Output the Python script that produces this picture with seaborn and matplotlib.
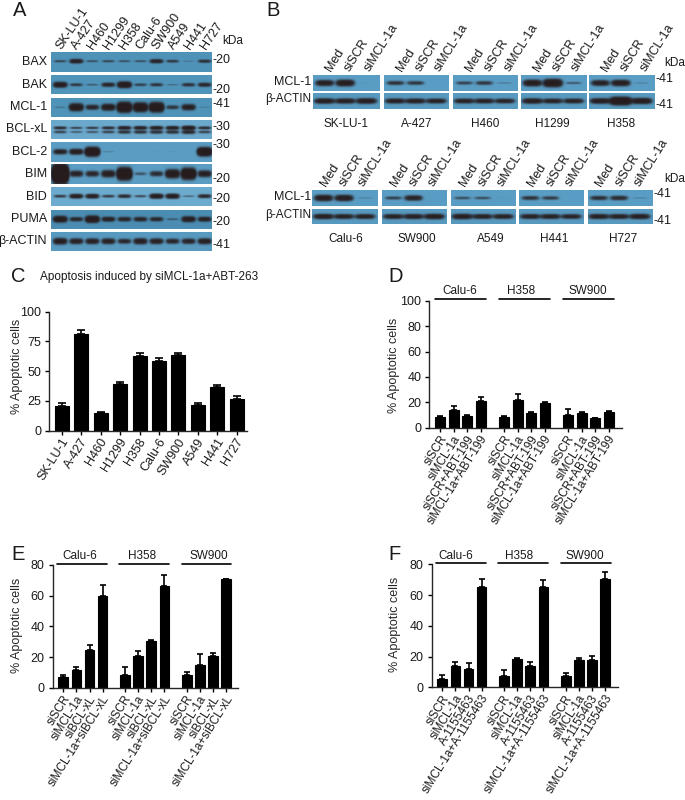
import numpy as np
import pandas as pd
import seaborn as sns
import matplotlib.pyplot as plt
from matplotlib.colors import LinearSegmentedColormap
from matplotlib.lines import Line2D
from matplotlib.transforms import ScaledTranslation

W, H = 685, 800

cell_lines = ['SK-LU-1', 'A-427', 'H460', 'H1299', 'H358', 'Calu-6', 'SW900', 'A549', 'H441', 'H727']

# panel A, band strength per lane (read by eye from the blots)
a_proteins = ['BAX', 'BAK', 'MCL-1', 'BCL-xL', 'BCL-2', 'BIM', 'BID', 'PUMA', 'β-ACTIN']
a_kda = ['-20', '-20', '-41', '-30', '-30', '-20', '-20', '-20', '-41']
bax = [.5, 1.6, .4, .5, .4, .4, 1.4, .7, .15, .9]
bak = [2.2, .7, .3, 1.3, 2.8, .6, .8, .2, .9, 1.2]
mcl1 = [.15, 2.8, 1.3, 2.2, 5, 4, 4.5, .8, 1.8, .1]
bclxl = [1, .6, .7, 1, 1.5, 1.5, 1.6, 1.6, 2, 1]
bcl2 = [1.6, 2, 5, .12, 0, 0, .02, .03, 0, 4.5]
bim = [14, 1.5, 1.3, 2, 6, .4, 1.1, 3, 5, 1.8]
bid = [.7, 1.7, 1.7, .7, 1.1, .5, 2, 2, .3, 1.2]
puma = [2.5, 1.2, 3, 1.5, 1.3, 1.3, 1.2, .3, 2, 1.5]
actin_a = [2, 1.6, 1.6, 1.6, 1.2, 1.8, 1.6, 1.3, 1.4, 1.7]

# panel B, band strength for Med / siSCR / siMCL-1a
b_lanes = ['Med', 'siSCR', 'siMCL-1a']
b_top = ['SK-LU-1', 'A-427', 'H460', 'H1299', 'H358']
b_bottom = ['Calu-6', 'SW900', 'A549', 'H441', 'H727']
mcl_top = [[1.8, 2.2, .04], [.9, .8, 0], [.6, .8, .15], [2.2, 3.2, .35], [1.7, 2, .12]]
actin_top = [[1.8, 1.7, 1.9], [1.6, 1.6, 1.5], [1.5, 1.5, 1.4], [1.8, 1.5, 1.5], [1.9, 4, 2.2]]
mcl_bottom = [[2, 2, .12], [.6, 1.5, 0], [.45, .45, .04], [.9, .7, .02], [1, 1.1, .12]]
actin_bottom = [[1.7, 1.5, 1.5], [1.5, 1.6, 1.8], [1.8, 1.5, 1.5], [1.5, 1.5, 1.4], [1.6, 1.5, 1.7]]

# panel C
c_values = [21, 81.5, 15, 39, 63, 58.5, 63.5, 22, 37, 26.5]
c_errors = [2, 3, .7, 2, 2.5, 2.5, 2, 1, 1, 2.5]

# panels D, E, F
groups = ['Calu-6', 'H358', 'SW900']
d_labels = ['siSCR', 'siMCL-1a', 'siSCR+ABT-199', 'siMCL-1a+ABT-199']
d_values = [8.5, 14, 9.5, 21, 8.5, 22, 11.5, 19.5, 10, 11.5, 7.5, 12.5]
d_errors = [.7, 2.8, .8, 3.5, .5, 4.3, .5, .7, 4.5, .8, .5, .6]
e_labels = ['siSCR', 'siMCL-1a', 'siBCL-xL', 'siMCL-1a+siBCL-xL']
e_values = [7, 11.5, 24.5, 60, 8.5, 21, 30.5, 66, 8.5, 15, 20.5, 70.5]
e_errors = [1.3, 2.2, 3.5, 7, 5, 2.7, .4, 7, 2, 7, 2.2, .4]
f_labels = ['siSCR', 'siMCL-1a', 'A-1155463', 'siMCL-1a+A-1155463']
f_values = [5.5, 14, 12, 65.5, 7.5, 18.5, 14, 65, 7.5, 18, 18, 70.5]
f_errors = [2.5, 2.5, 3.7, 5, 4, .4, 2.2, 4.5, 1.5, 1.2, 2.2, 4.5]

sns.set_style("ticks")
plt.rcParams['font.family'] = ['Liberation Sans', 'DejaVu Sans']
plt.rcParams['axes.linewidth'] = 1.0
plt.rcParams['xtick.major.width'] = 1.0
plt.rcParams['ytick.major.width'] = 1.0
plt.rcParams['text.color'] = '#1a1a1a'
plt.rcParams['xtick.labelcolor'] = '#1a1a1a'
plt.rcParams['ytick.labelcolor'] = '#1a1a1a'

fig = plt.figure(figsize=(W / 100, H / 100), dpi=100)


def add_ax(x0, y0, x1, y1):
    # box given in image pixels
    return fig.add_axes([x0 / W, 1 - y1 / H, (x1 - x0) / W, (y1 - y0) / H])


def put(x, y, s, size=9, ha='left', va='center', rot=0, **kw):
    fig.text(x / W, 1 - y / H, s, fontsize=size, ha=ha, va=va, rotation=rot,
             rotation_mode='anchor', **kw)


def blot(box, strengths, lanes, bg, band_y=(.5,), sigma=.085, half=6.0):
    # lanes are fractions of the strip width, stronger bands get fatter
    x0, y0, x1, y1 = box
    nx, ny = int((x1 - x0) * 2), int((y1 - y0) * 2)
    xx, yy = np.meshgrid(np.linspace(0, 1, nx), np.linspace(0, 1, ny))
    dens = np.zeros_like(xx)
    hx = half / (x1 - x0)
    for s, c in zip(strengths, lanes):
        if s == 0:
            continue
        for i, by in enumerate(band_y):
            k = 1 if i == 0 else .6
            dens += k * s * np.exp(-((xx - c) / (hx * s ** .05)) ** 4
                                   - ((yy - by) / (sigma * s ** .4)) ** 2)
    ax = add_ax(*box)
    cmap = LinearSegmentedColormap.from_list('blot', [bg, '#261c1e'])
    sns.heatmap(1 - np.exp(-dens * 2), ax=ax, cmap=cmap, vmin=0, vmax=1, cbar=False,
                xticklabels=False, yticklabels=False)
    ax.tick_params(length=0)


# ---- panel A
put(12.5, 10.5, 'A', 14.5)
a_rows = [bax, bak, mcl1, bclxl, bcl2, bim, bid, puma, actin_a]
a_tops = [52.3, 75, 97.7, 120, 142.3, 164.3, 187, 210, 231.7]
a_band_y = [(.47,), (.5,), (.5,), (.4, .62), (.5,), (.5,), (.47,), (.47,), (.5,)]
a_sigma = [.08, .085, .1, .07, .09, .11, .08, .09, .1]
a_bg = ['#4f92b8', '#5094ba', '#4f93b8', '#6aa8cc', '#5a9cc2', '#5a9cc2', '#6cabce', '#4a8cb2', '#5899bf']
a_kda_y = [60, 90, 104, 126.7, 145, 179.3, 199.3, 221.7, 245]
lanes_a = (np.arange(10) * 16.1 + 9.3) / 161.6
for i in range(9):
    top = a_tops[i]
    blot((50.7, top, 212.3, top + 19.2), a_rows[i], lanes_a, a_bg[i], a_band_y[i], a_sigma[i])
    put(47, top + 9.5, a_proteins[i], 9, ha='right')
    put(213, a_kda_y[i], a_kda[i], 9)
for i, name in enumerate(cell_lines):
    put(58.5 + 16.1 * i, 48, name, 9, rot=56)
put(222.5, 41, 'kDa', 8.5)

# ---- panel B
put(266.5, 10.5, 'B', 14.5)
lanes_b = [.17, .48, .8]
b_boxes_top = [(313.3, 380), (384, 449), (453.3, 518), (521, 586.7), (589.3, 654.7)]
b_boxes_bottom = [(312, 378.3), (382, 447.3), (451, 516), (519, 584.3), (587.7, 652.7)]
b_name_x_top = [346, 416.7, 485, 552.7, 620.7]
b_name_x_bottom = [345.3, 416.7, 490.7, 554, 622.7]


def b_row(boxes, mcl, act, y_mcl, y_act, names, name_x, name_y, first, label_y, kda_x, mcl_kda_y, act_kda_y, kda_y):
    for i, (xa, xb) in enumerate(boxes):
        blot((xa, y_mcl, xb, y_mcl + 15.6), mcl[i], lanes_b, '#5a9dc4', sigma=.12, half=8)
        blot((xa, y_act, xb, y_act + 15.6), act[i], lanes_b, '#5899bf', sigma=.11, half=9)
        put(name_x[i], name_y, names[i], 8.5, ha='center')
        for j, lane in enumerate(b_lanes):
            put(xa + first + 19.2 * j, label_y, lane, 9, rot=58)
    put(311.5, y_mcl + 6.5, 'MCL-1', 9, ha='right')
    put(311.5, y_act + 6, 'β-ACTIN', 8.5, ha='right')
    put(kda_x, mcl_kda_y, '-41', 9)
    put(kda_x, act_kda_y, '-41', 9)
    put(664, kda_y, 'kDa', 8.5)


b_row(b_boxes_top, mcl_top, actin_top, 75.3, 93.3, b_top, b_name_x_top, 124, 15, 70, 655.3, 79, 105, 63.3)
b_row(b_boxes_bottom, mcl_bottom, actin_bottom, 190, 208.7, b_bottom, b_name_x_bottom, 239.3, 11, 185, 653.3, 194.3, 221, 179.3)


# ---- bar panels
def finish_axes(ax, ylim, yticks, ylab_x, ylab_y, box):
    ax.set_ylim(0, ylim)
    ax.set_yticks(yticks)
    ax.set_xlabel('')
    ax.set_ylabel('% Apoptotic cells', fontsize=9)
    ax.yaxis.set_label_coords((ylab_x + 7 - box[0]) / (box[2] - box[0]), ylab_y)
    ax.tick_params(axis='y', labelsize=9, length=3.2, pad=2.5, color='black')
    ax.tick_params(axis='x', length=3.2, pad=3, color='black')
    sns.despine(ax=ax)
    # rotated labels sit a little right of their ticks
    shift = ScaledTranslation(4 / 100, 0, fig.dpi_scale_trans)
    for lab in ax.get_xticklabels():
        lab.set_transform(lab.get_transform() + shift)
        lab.set_rotation(58)
        lab.set_ha('right')
        lab.set_va('center')
        lab.set_rotation_mode('anchor')


put(11, 276, 'C', 14.5)
put(40, 277, 'Apoptosis induced by siMCL-1a+ABT-263', 8.5)
box_c = (49, 311.7, 247, 430.7)
ax_c = add_ax(*box_c)
df_c = pd.DataFrame({'cell': cell_lines, 'pct': c_values})
sns.barplot(data=df_c, x='cell', y='pct', color='black', saturation=1, width=.72, errorbar=None,
            edgecolor='black', linewidth=.8, ax=ax_c)
ax_c.errorbar(range(10), c_values, yerr=[np.zeros(10), c_errors], fmt='none', ecolor='black',
              elinewidth=1.2, capsize=3.2, capthick=1.2)
ax_c.set_xlim(-.67, 9.54)
ax_c.tick_params(axis='x', labelsize=9)
finish_axes(ax_c, 100, [0, 25, 50, 75, 100], 15.7, .54, box_c)

group_gap = .72


def group_panel(letter, letter_x, letter_y, box, labels, values, errors, ylim, yticks, xlim,
                ylab_x, ylab_y, line_x, line_y, text_x, text_y):
    put(letter_x, letter_y, letter, 14.5)
    ax = add_ax(*box)
    xs = [g * (4 + group_gap) + i for g in range(3) for i in range(4)]
    df = pd.DataFrame({'x': xs, 'pct': values})
    sns.barplot(data=df, x='x', y='pct', native_scale=True, color='black', saturation=1, width=.74,
                errorbar=None, edgecolor='black', linewidth=.8, ax=ax)
    ax.errorbar(xs, values, yerr=[np.zeros(12), errors], fmt='none', ecolor='black',
                elinewidth=1.2, capsize=2.3, capthick=1.2)
    ax.set_xlim(*xlim)
    ax.set_xticks(xs)
    ax.set_xticklabels(labels * 3, fontsize=8.5)
    finish_axes(ax, ylim, yticks, ylab_x, ylab_y, box)
    for g, name in enumerate(groups):
        xa, xb = line_x[g]
        fig.add_artist(Line2D([xa / W, xb / W], [1 - line_y / H] * 2, color='black', lw=1.2))
        put(text_x[g], text_y, name, 8.5, ha='center')


group_panel('D', 388, 276, (429.3, 300.7, 621.7, 427.7), d_labels, d_values, d_errors, 100,
            [0, 20, 40, 60, 80, 100], (-.81, 13.39), 392.7, .49,
            [(435, 486), (499, 550), (563.3, 614.3)], 299.3, [460, 521, 588], 291)
group_panel('E', 11, 555, (52.7, 564.7, 238.3, 688), e_labels, e_values, e_errors, 80,
            [0, 20, 40, 60, 80], (-.81, 13.36), 15.7, .51,
            [(57.3, 106.7), (119.3, 168.7), (181.7, 231)], 563.7, [80, 142.3, 209], 556)
group_panel('F', 388, 554, (431.7, 564.3, 617.7, 687.3), f_labels, f_values, f_errors, 80,
            [0, 20, 40, 60, 80], (-.81, 13.39), 394, .51,
            [(436.3, 486.3), (497.7, 548), (560.7, 610.7)], 563.3, [456, 518.7, 585.3], 556)

fig.savefig('out.png', dpi=100)
